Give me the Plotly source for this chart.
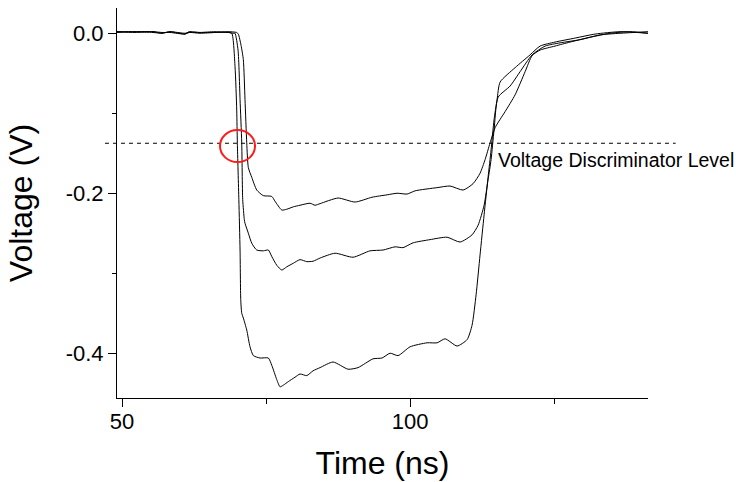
import plotly.graph_objects as go

# ---- data (time in ns, voltage in V) ----
t_large = [49.13, 52.26, 55.38, 56.94, 58.33, 60.94, 61.63, 63.54, 66.15, 68.4, 69.05,
           69.62, 69.91, 70.02, 70.28, 70.49, 70.61, 70.78, 71.06, 71.65, 72.22, 72.80,
           73.96, 75.40, 75.99, 76.86, 77.43, 78.00, 78.87, 80.03, 80.90, 82.07, 83.16,
           84.38, 86.63, 89.24, 90.97, 93.58, 95.14, 96.53, 97.92, 100.0, 102.95, 104.69,
           106.08, 108.16, 109.90, 110.76, 111.46, 112.15, 112.85, 113.54, 114.06, 114.58,
           115.10, 115.63, 118.23, 120.83, 122.57, 125.17, 128.65, 132.12, 136.46, 141.32]
v_large = [0.002, 0.002, 0.001, 0.0, 0.002, -0.001, 0.002, 0.001, 0.001, 0.001, 0.0,
           -0.042, -0.096, -0.1375, -0.208, -0.271, -0.333, -0.350, -0.356, -0.371, -0.392, -0.403,
           -0.406, -0.406, -0.415, -0.433, -0.442, -0.440, -0.4355, -0.430, -0.426, -0.428, -0.422,
           -0.418, -0.411, -0.420, -0.418, -0.407, -0.406, -0.400, -0.403, -0.392, -0.387, -0.387,
           -0.382, -0.391, -0.383, -0.365, -0.327, -0.277, -0.227, -0.180, -0.146, -0.108,
           -0.083, -0.061, -0.043, -0.027, -0.016, -0.011, -0.006, -0.001, 0.002, 0.0]

t_mid = [49.13, 52.26, 55.38, 56.94, 58.33, 60.94, 61.63, 63.54, 66.15, 68.4, 69.44,
         69.62, 70.14, 70.49, 70.78, 70.95, 71.23, 71.35, 71.93, 72.52, 73.39, 74.53,
         75.40, 75.99, 76.86, 77.73, 78.59, 79.74, 80.90, 82.07, 83.16, 84.38, 86.98,
         90.10, 93.06, 95.31, 97.40, 98.78, 100.52, 103.47, 106.42, 108.68, 110.76, 111.81,
         112.85, 113.54, 114.06, 114.58, 115.28, 117.36, 119.10, 121.18, 123.44, 126.04,
         129.51, 132.99, 136.46, 141.32]
v_mid = [0.001, 0.002, 0.002, 0.0, 0.002, 0.0, 0.001, 0.001, 0.002, 0.001, 0.0,
         0.0, -0.021, -0.083, -0.137, -0.208, -0.233, -0.2375, -0.250, -0.2625, -0.271, -0.272,
         -0.271, -0.279, -0.290, -0.296, -0.292, -0.2875, -0.283, -0.2855, -0.285, -0.281, -0.275,
         -0.280, -0.272, -0.271, -0.267, -0.268, -0.262, -0.258, -0.255, -0.261, -0.252, -0.240,
         -0.215, -0.183, -0.158, -0.121, -0.080, -0.066, -0.048, -0.027, -0.016, -0.012,
         -0.008, -0.002, 0.0, 0.002]

t_small = [49.13, 52.26, 55.38, 56.94, 58.33, 60.94, 61.63, 63.54, 66.15, 68.4, 69.9,
           70.19, 70.66, 71.06, 71.35, 71.65, 71.93, 72.52, 73.39, 74.53, 75.99, 76.56,
           77.73, 78.59, 79.74, 80.90, 82.64, 83.51, 84.38, 87.50, 90.45, 93.40, 96.01,
           97.74, 99.48, 100.87, 104.69, 106.94, 109.20, 110.94, 112.15, 113.02, 113.89,
           114.76, 116.49, 118.23, 119.97, 121.18, 122.57, 125.17, 127.78, 131.25, 134.72,
           138.19, 141.32]
v_small = [0.002, 0.001, 0.002, 0.001, 0.001, -0.001, 0.001, 0.0, 0.001, 0.002, 0.001,
           -0.001, -0.015, -0.033, -0.083, -0.137, -0.168, -0.180, -0.196, -0.203, -0.204, -0.210,
           -0.221, -0.220, -0.217, -0.215, -0.2125, -0.215, -0.213, -0.206, -0.211, -0.205, -0.202,
           -0.200, -0.201, -0.197, -0.193, -0.191, -0.196, -0.188, -0.175, -0.158, -0.137,
           -0.118, -0.098, -0.077, -0.048, -0.028, -0.021, -0.016, -0.011, -0.005, 0.0,
           0.002, 0.0]

discriminator_level = -0.1375
discriminator_label = "Voltage Discriminator Level"
label_time = 115.0
circle_center = (70.05, -0.141)
circle_radius = (3.04, 0.020)

x_range = [49.13, 141.3]
y_range = [-0.456, 0.0316]
x_tickvals = [50, 100]
x_ticktext = ["50", "100"]
x_minor_vals = [75, 125]
y_tickvals = [0.0, -0.2, -0.4]
y_ticktext = ["0.0", "-0.2", "-0.4"]
y_minor_vals = [-0.1, -0.3]

FONT = "Liberation Sans, Arial, Helvetica, sans-serif"

fig = go.Figure()
for t, v in [(t_small, v_small), (t_mid, v_mid), (t_large, v_large)]:
    fig.add_trace(go.Scatter(x=t, y=v, mode="lines",
                             line=dict(color="black", width=1, shape="spline", smoothing=0.6),
                             showlegend=False, hoverinfo="skip"))

# dashed discriminator level (extends slightly beyond the axes, as in the reference)
yfrac = (discriminator_level - y_range[0]) / (y_range[1] - y_range[0])
fig.add_shape(type="line", xref="paper", yref="paper", x0=-0.0226, x1=1.052,
              y0=yfrac, y1=yfrac, line=dict(color="black", width=1, dash="4px,4px"))

fig.add_shape(type="circle", xref="x", yref="y",
              x0=circle_center[0] - circle_radius[0], x1=circle_center[0] + circle_radius[0],
              y0=circle_center[1] - circle_radius[1], y1=circle_center[1] + circle_radius[1],
              line=dict(color="#ff1a1a", width=2))

fig.add_annotation(x=label_time, y=-0.158, xref="x", yref="y", text=discriminator_label,
                   showarrow=False, xanchor="left", yanchor="middle",
                   font=dict(family=FONT, size=19.5, color="black"))

fig.update_layout(
    width=736, height=482,
    margin=dict(l=117, r=88, t=8, b=84),
    plot_bgcolor="white", paper_bgcolor="white",
    font=dict(family=FONT, color="black"),
)
fig.update_xaxes(range=x_range, showgrid=False, zeroline=False, showline=True,
                 linecolor="black", linewidth=1, ticks="outside", ticklen=8, tickcolor="black",
                 tickmode="array", tickvals=x_tickvals, ticktext=x_ticktext,
                 tickfont=dict(size=22, family=FONT), ticklabelstandoff=-4,
                 minor=dict(tickmode="array", tickvals=x_minor_vals, ticks="outside",
                            ticklen=5, tickcolor="black", showgrid=False),
                 title=dict(text="Time (ns)", font=dict(size=32, family=FONT), standoff=18))
fig.update_yaxes(range=y_range, showgrid=False, zeroline=False, showline=True,
                 linecolor="black", linewidth=1, ticks="outside", ticklen=8, tickcolor="black",
                 tickmode="array", tickvals=y_tickvals, ticktext=y_ticktext,
                 tickfont=dict(size=22, family=FONT),
                 minor=dict(tickmode="array", tickvals=y_minor_vals, ticks="outside",
                            ticklen=4, tickcolor="black", showgrid=False),
                 title=dict(text="Voltage (V)", font=dict(size=32, family=FONT), standoff=23))

fig.write_html("out.html")
